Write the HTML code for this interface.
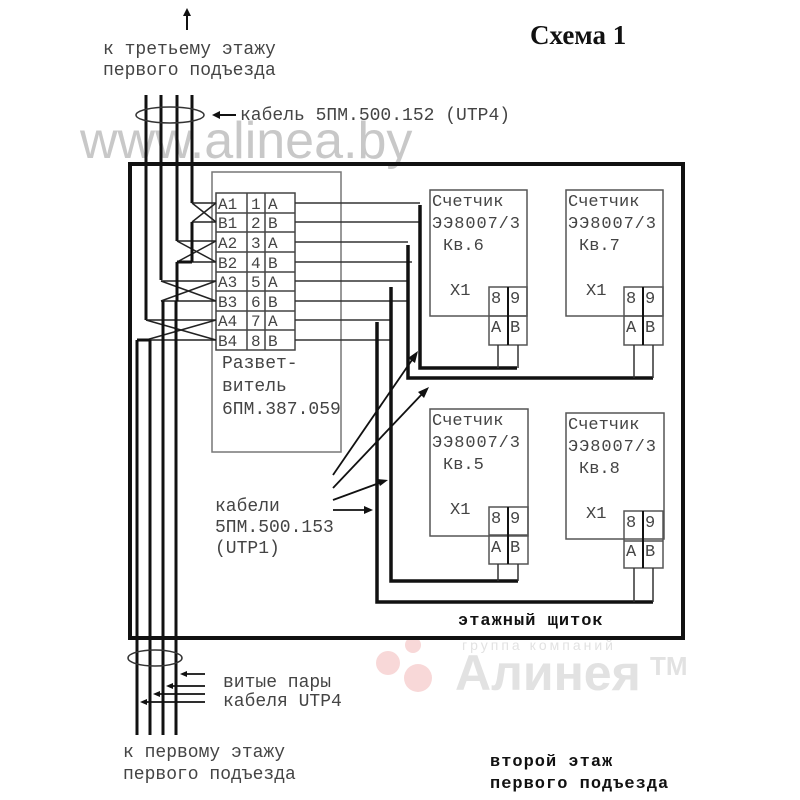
<!DOCTYPE html>
<html><head><meta charset="utf-8"><style>
html,body{margin:0;padding:0;background:#fff;}
svg{display:block;}
.m{font-family:"Liberation Mono","DejaVu Sans Mono",monospace;font-size:18px;fill:#444;}
.t{font-family:"Liberation Mono","DejaVu Sans Mono",monospace;font-size:17px;fill:#444;}
.c{font-family:"Liberation Mono","DejaVu Sans Mono",monospace;font-size:16px;fill:#444;}
.b{font-family:"Liberation Mono",monospace;font-size:17px;font-weight:bold;fill:#111;letter-spacing:1px;}
</style></head><body>
<svg width="800" height="800" viewBox="0 0 800 800" xmlns="http://www.w3.org/2000/svg">
<text x="80" y="158" font-family="Liberation Sans,sans-serif" font-size="52" fill="#c8c8c8">www.alinea.by</text>
<circle cx="388" cy="663" r="12" fill="#f8d8d8"/><circle cx="413" cy="645" r="8" fill="#f8d8d8"/><circle cx="418" cy="678" r="14" fill="#f8d8d8"/>
<text x="455" y="690" font-family="Liberation Sans,sans-serif" font-size="50" font-weight="bold" fill="#e2e2e2">Алинея</text>
<text x="650" y="675" font-family="Liberation Sans,sans-serif" font-size="26" font-weight="bold" fill="#e2e2e2">ТМ</text>
<text x="462" y="650" font-family="Liberation Sans,sans-serif" font-size="14" fill="#e2e2e2" letter-spacing="3">группа компаний</text>

<text x="530" y="44" font-family="Liberation Serif,serif" font-size="27" font-weight="bold" fill="#111">Схема 1</text>

<line x1="187" y1="30" x2="187" y2="12" stroke="#111" stroke-width="2"/>
<polygon points="187,8 183,16 191,16" fill="#111"/>
<text class="m" x="103" y="54">к третьему  этажу</text>
<text class="m" x="103" y="75">первого подъезда</text>

<g stroke="#111" stroke-width="3">
<line x1="146" y1="95" x2="146" y2="320"/>
<line x1="161" y1="95" x2="161" y2="280"/>
<line x1="177" y1="95" x2="177" y2="241"/>
<line x1="192" y1="95" x2="192" y2="203"/>
</g>
<ellipse cx="170" cy="115" rx="34" ry="8" fill="none" stroke="#333" stroke-width="1.5"/>
<line x1="236" y1="115" x2="218" y2="115" stroke="#111" stroke-width="2"/>
<polygon points="212,115 220,111 220,119" fill="#111"/>
<text class="m" x="240" y="120">кабель 5ПМ.500.152 (UTP4)</text>

<rect x="130" y="164" width="553" height="474" fill="none" stroke="#111" stroke-width="4"/>

<rect x="212" y="172" width="129" height="280" fill="none" stroke="#777" stroke-width="1.5"/>
<g stroke="#444" stroke-width="1.5" fill="none">
<rect x="216" y="193" width="79" height="157"/>
<line x1="247" y1="193" x2="247" y2="350"/><line x1="265" y1="193" x2="265" y2="350"/>
<line x1="216" y1="213" x2="295" y2="213"/><line x1="216" y1="232" x2="295" y2="232"/>
<line x1="216" y1="252" x2="295" y2="252"/><line x1="216" y1="272" x2="295" y2="272"/>
<line x1="216" y1="291" x2="295" y2="291"/><line x1="216" y1="311" x2="295" y2="311"/>
<line x1="216" y1="330" x2="295" y2="330"/>
</g>
<g class="c">
<text x="218" y="209">A1</text><text x="251" y="209">1</text><text x="268" y="209">A</text>
<text x="218" y="228">B1</text><text x="251" y="228">2</text><text x="268" y="228">B</text>
<text x="218" y="248">A2</text><text x="251" y="248">3</text><text x="268" y="248">A</text>
<text x="218" y="268">B2</text><text x="251" y="268">4</text><text x="268" y="268">B</text>
<text x="218" y="287">A3</text><text x="251" y="287">5</text><text x="268" y="287">A</text>
<text x="218" y="307">B3</text><text x="251" y="307">6</text><text x="268" y="307">B</text>
<text x="218" y="326">A4</text><text x="251" y="326">7</text><text x="268" y="326">A</text>
<text x="218" y="346">B4</text><text x="251" y="346">8</text><text x="268" y="346">B</text>
</g>
<text class="m" x="222" y="368">Развет-</text>
<text class="m" x="222" y="391">витель</text>
<text class="m" x="222" y="414">6ПМ.387.059</text>

<g stroke="#222" stroke-width="1.5" fill="none">
<line x1="192" y1="203" x2="216" y2="222"/><line x1="192" y1="222" x2="216" y2="203"/><line x1="192" y1="203" x2="216" y2="203"/>
<line x1="177" y1="241" x2="216" y2="262"/><line x1="177" y1="262" x2="216" y2="241"/><line x1="177" y1="241" x2="216" y2="241"/>
<line x1="161" y1="281" x2="216" y2="301"/><line x1="161" y1="301" x2="216" y2="281"/><line x1="161" y1="281" x2="216" y2="281"/>
<line x1="146" y1="320" x2="216" y2="340"/><line x1="146" y1="340" x2="216" y2="320"/><line x1="146" y1="320" x2="216" y2="320"/>
<line x1="192" y1="222" x2="216" y2="222"/><line x1="177" y1="262" x2="216" y2="262"/>
<line x1="161" y1="301" x2="216" y2="301"/><line x1="146" y1="340" x2="216" y2="340"/>
</g>
<g stroke="#111" stroke-width="3">
<line x1="192" y1="222" x2="192" y2="262"/><line x1="177" y1="262" x2="177" y2="301"/>
<line x1="163" y1="301" x2="163" y2="340"/>
<line x1="192" y1="262" x2="177" y2="262"/>
<line x1="150" y1="340" x2="150" y2="735"/>
<line x1="163" y1="340" x2="163" y2="735"/>
<line x1="176" y1="301" x2="176" y2="735"/>
<line x1="137" y1="340" x2="137" y2="735"/>
<line x1="137" y1="340" x2="150" y2="340"/>
</g>

<g stroke="#333" stroke-width="1.5">
<line x1="295" y1="203" x2="420" y2="203"/><line x1="295" y1="222" x2="420" y2="222"/>
<line x1="295" y1="242" x2="408" y2="242"/><line x1="295" y1="262" x2="412" y2="262"/>
<line x1="295" y1="281" x2="408" y2="281"/><line x1="295" y1="301" x2="408" y2="301"/>
<line x1="295" y1="320" x2="391" y2="320"/><line x1="295" y1="340" x2="391" y2="340"/>
</g>
<g stroke="#111" stroke-width="3.5" fill="none">
<polyline points="420,205 420,368 517,368"/>
<polyline points="408,245 408,378 653,378"/>
<polyline points="391,287 391,581 518,581"/>
<polyline points="377,322 377,602 653,602"/>
</g>

<g stroke="#555" stroke-width="1.5" fill="none">
<rect x="430" y="190" width="97" height="126"/>
<rect x="489" y="287" width="38" height="58"/><line x1="489" y1="316" x2="527" y2="316"/>
<rect x="566" y="190" width="97" height="126"/>
<rect x="624" y="287" width="39" height="58"/><line x1="624" y1="316" x2="663" y2="316"/>
<rect x="430" y="409" width="98" height="127"/>
<rect x="489" y="507" width="39" height="57"/><line x1="489" y1="535" x2="528" y2="535"/>
<rect x="566" y="413" width="98" height="126"/>
<rect x="624" y="511" width="39" height="57"/><line x1="624" y1="541" x2="663" y2="541"/>
</g>
<g stroke="#111" stroke-width="2">
<line x1="508" y1="287" x2="508" y2="345"/><line x1="643" y1="287" x2="643" y2="345"/>
<line x1="508" y1="507" x2="508" y2="564"/><line x1="643" y1="511" x2="643" y2="568"/>
</g>
<g stroke="#333" stroke-width="1.5">
<line x1="498" y1="345" x2="498" y2="368"/><line x1="518" y1="345" x2="518" y2="368"/>
<line x1="634" y1="345" x2="634" y2="378"/><line x1="653" y1="345" x2="653" y2="378"/>
<line x1="498" y1="564" x2="498" y2="581"/><line x1="518" y1="564" x2="518" y2="581"/>
<line x1="634" y1="568" x2="634" y2="602"/><line x1="653" y1="568" x2="653" y2="602"/>
</g>
<g class="t">
<text x="432" y="206">Счетчик</text><text x="432" y="228" textLength="88">ЭЭ8007/3</text><text x="443" y="250">Кв.6</text><text x="450" y="295">Х1</text>
<text x="491" y="303">8</text><text x="510" y="303">9</text><text x="491" y="332">A</text><text x="510" y="332">B</text>
<text x="568" y="206">Счетчик</text><text x="568" y="228" textLength="88">ЭЭ8007/3</text><text x="579" y="250">Кв.7</text><text x="586" y="295">Х1</text>
<text x="626" y="303">8</text><text x="645" y="303">9</text><text x="626" y="332">A</text><text x="645" y="332">B</text>
<text x="432" y="425">Счетчик</text><text x="432" y="447" textLength="88">ЭЭ8007/3</text><text x="443" y="469">Кв.5</text><text x="450" y="514">Х1</text>
<text x="491" y="523">8</text><text x="510" y="523">9</text><text x="491" y="552">A</text><text x="510" y="552">B</text>
<text x="568" y="429">Счетчик</text><text x="568" y="451" textLength="88">ЭЭ8007/3</text><text x="579" y="473">Кв.8</text><text x="586" y="518">Х1</text>
<text x="626" y="527">8</text><text x="645" y="527">9</text><text x="626" y="556">A</text><text x="645" y="556">B</text>
</g>

<g stroke="#111" stroke-width="1.8">
<line x1="333" y1="475" x2="414" y2="357"/>
<line x1="333" y1="488" x2="423" y2="393"/>
<line x1="333" y1="500" x2="382" y2="482"/>
<line x1="333" y1="510" x2="366" y2="510"/>
</g>
<polygon points="418,351 408,358 415,363" fill="#111"/>
<polygon points="429,387 418,392 424,398" fill="#111"/>
<polygon points="388,480 377,479 380,486" fill="#111"/>
<polygon points="373,510 364,506 364,514" fill="#111"/>
<text class="m" x="215" y="511">кабели</text>
<text class="m" x="215" y="532">5ПМ.500.153</text>
<text class="m" x="215" y="553">(UTP1)</text>
<text class="b" x="458" y="625">этажный щиток</text>

<ellipse cx="155" cy="658" rx="27" ry="8" fill="none" stroke="#333" stroke-width="1.5"/>
<g stroke="#111" stroke-width="1.8">
<line x1="205" y1="674" x2="184" y2="674"/><line x1="205" y1="686" x2="170" y2="686"/>
<line x1="205" y1="694" x2="157" y2="694"/><line x1="205" y1="702" x2="144" y2="702"/>
</g>
<polygon points="180,674 187,671 187,677" fill="#111"/>
<polygon points="166,686 173,683 173,689" fill="#111"/>
<polygon points="153,694 160,691 160,697" fill="#111"/>
<polygon points="140,702 147,699 147,705" fill="#111"/>
<text class="m" x="223" y="687">витые пары</text>
<text class="m" x="223" y="706">кабеля UTP4</text>
<text class="m" x="123" y="757">к первому этажу</text>
<text class="m" x="123" y="779">первого подъезда</text>
<text class="b" x="490" y="766">второй этаж</text>
<text class="b" x="490" y="788">первого подъезда</text>
</svg>
</body></html>
